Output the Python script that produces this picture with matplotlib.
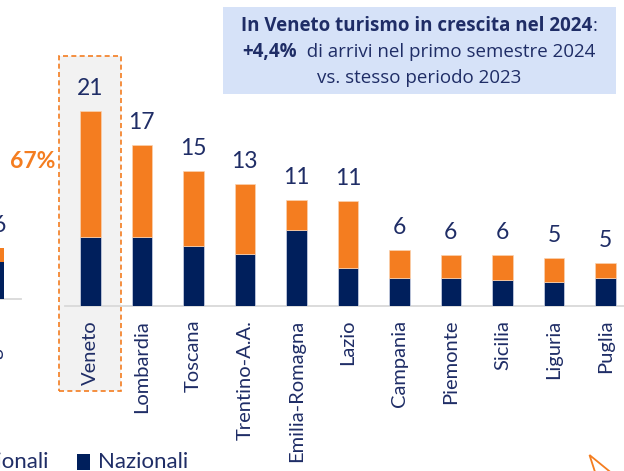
import matplotlib
matplotlib.use('Agg')
import matplotlib.pyplot as plt
from matplotlib.patches import Rectangle, Polygon

plt.rcParams['font.family'] = ['Lato', 'DejaVu Sans']

# dati (milioni di arrivi)
regioni = ['Veneto', 'Lombardia', 'Toscana', 'Trentino-A.A.', 'Emilia-Romagna', 'Lazio',
           'Campania', 'Piemonte', 'Sicilia', 'Liguria', 'Puglia']
nazionali = [7.4, 7.4, 6.5, 5.6, 8.2, 4.1, 3.0, 3.05, 2.85, 2.6, 3.05]
internazionali = [13.6, 10.0, 8.1, 7.6, 3.2, 7.2, 3.0, 2.45, 2.6, 2.55, 1.6]
etichette = ['21', '17', '15', '13', '11', '11', '6', '6', '6', '5', '5']
quota_veneto = '67%'

# grafico a sinistra (tagliato)
sx_regioni = ['Liguria']
sx_nazionali = [3.9]
sx_internazionali = [1.5]
sx_etichette = ['6']

ARANCIO = '#F47D20'
BLU = '#001F5C'
TESTO = '#1F2D66'
GRIGIO = '#D9D9D9'

W, H = 624, 471
fig = plt.figure(figsize=(W / 100, H / 100), dpi=100)


def px(x, y):
    return x / W, 1 - y / H


# asse principale
ax = fig.add_axes([65 / W, (H - 306) / H, (W - 65) / W, 232 / H])
x = list(range(len(regioni)))
ax.bar(x, nazionali, width=0.4, color=BLU, edgecolor='#D0D7E8', linewidth=0.5, zorder=3)
ax.bar(x, internazionali, bottom=nazionali, width=0.4, color=ARANCIO,
       edgecolor='#FAD2B0', linewidth=0.5, zorder=3)
for i in x:
    tot = nazionali[i] + internazionali[i]
    ax.annotate(etichette[i], (i, tot), xytext=(0, 11.5), textcoords='offset points',
                ha='center', va='baseline', fontsize=16.5, color=TESTO)
ax.set_xlim(-0.491, 10.36)
ax.set_ylim(0, 25)
ax.set_xticks(x)
ax.set_xticklabels(regioni, rotation=90, fontsize=14.5, color=TESTO)
ax.tick_params(axis='x', length=0, pad=10)
ax.set_yticks([])
for s in ['top', 'right', 'left']:
    ax.spines[s].set_visible(False)
ax.spines['bottom'].set_color(GRIGIO)
ax.spines['bottom'].set_linewidth(1.3)
ax.patch.set_visible(False)

# evidenziazione Veneto
scala = 232 / 25
x0 = (58.7 - 90.3) / 51.52
x1 = (120.7 - 90.3) / 51.52
y0 = (306 - 390.7) / scala
y1 = (306 - 56) / scala
ax.add_patch(Rectangle((x0, y0), x1 - x0, y1 - y0, facecolor='#F2F2F2', edgecolor=ARANCIO,
                       linestyle=(0, (3, 2)), linewidth=1.2, clip_on=False, zorder=0))

fig.text(*px(32.5, 162), quota_veneto, ha='center', va='center', fontsize=16.5,
         fontweight='bold', color=ARANCIO)

# grafico a sinistra
ax2 = fig.add_axes([-50 / W, (H - 298.5) / H, 71 / W, 232 / H])
ax2.bar([0], sx_nazionali, width=0.4, color=BLU, zorder=3)
ax2.bar([0], sx_internazionali, bottom=sx_nazionali, width=0.4, color=ARANCIO, zorder=3)
ax2.annotate(sx_etichette[0], (0, sx_nazionali[0] + sx_internazionali[0]), xytext=(4, 11.5),
             textcoords='offset points', ha='center', va='baseline', fontsize=16.5, color=TESTO)
ax2.set_xlim(-0.854, 0.524)
ax2.set_ylim(0, 25)
ax2.set_xticks([0])
ax2.set_xticklabels(sx_regioni, rotation=90, fontsize=14.5, color=TESTO)
ax2.tick_params(axis='x', length=0, pad=10)
ax2.set_yticks([])
for s in ['top', 'right', 'left']:
    ax2.spines[s].set_visible(False)
ax2.spines['bottom'].set_color(GRIGIO)
ax2.spines['bottom'].set_linewidth(1.3)
ax2.patch.set_visible(False)

# riquadro informativo
fig.patches.append(Rectangle(px(222.7, 94.3), (616 - 222.7) / W, (94.3 - 6.7) / H,
                             transform=fig.transFigure, facecolor='#D6E2F8',
                             edgecolor='none', zorder=0))
renderer = fig.canvas.get_renderer()


def riga(parti, base_y, cx=419):
    testi = []
    for s, peso in parti:
        t = fig.text(0, 1 - base_y / H, s, fontsize=13.5, fontweight=peso, color=TESTO,
                     va='baseline', ha='left', family=['Open Sans', 'DejaVu Sans'])
        testi.append(t)
    larg = [t.get_window_extent(renderer).width for t in testi]
    xx = cx - sum(larg) / 2
    for t, w in zip(testi, larg):
        t.set_x(xx / W)
        xx += w


riga([('In Veneto turismo in crescita nel 2024', 'bold'), (':', 'normal')], 30.7)
riga([('+4,4%', 'bold'), ('  di arrivi nel primo semestre 2024', 'normal')], 56.7)
riga([('vs. stesso periodo 2023', 'normal')], 83)

# legenda
fig.text(*px(48, 462), 'Internazionali', ha='right', va='center', fontsize=16, color=TESTO)
fig.patches.append(Rectangle(px(77, 470), 13 / W, 16 / H, transform=fig.transFigure,
                             facecolor=BLU, edgecolor='none'))
fig.text(*px(98, 462), 'Nazionali', ha='left', va='center', fontsize=16, color=TESTO)

# freccia decorativa
fig.patches.append(Polygon([px(589.5, 455), px(596, 475), px(614, 475)], closed=True,
                           transform=fig.transFigure, facecolor='white',
                           edgecolor=ARANCIO, linewidth=1.3))

fig.savefig('out.png', dpi=100)
